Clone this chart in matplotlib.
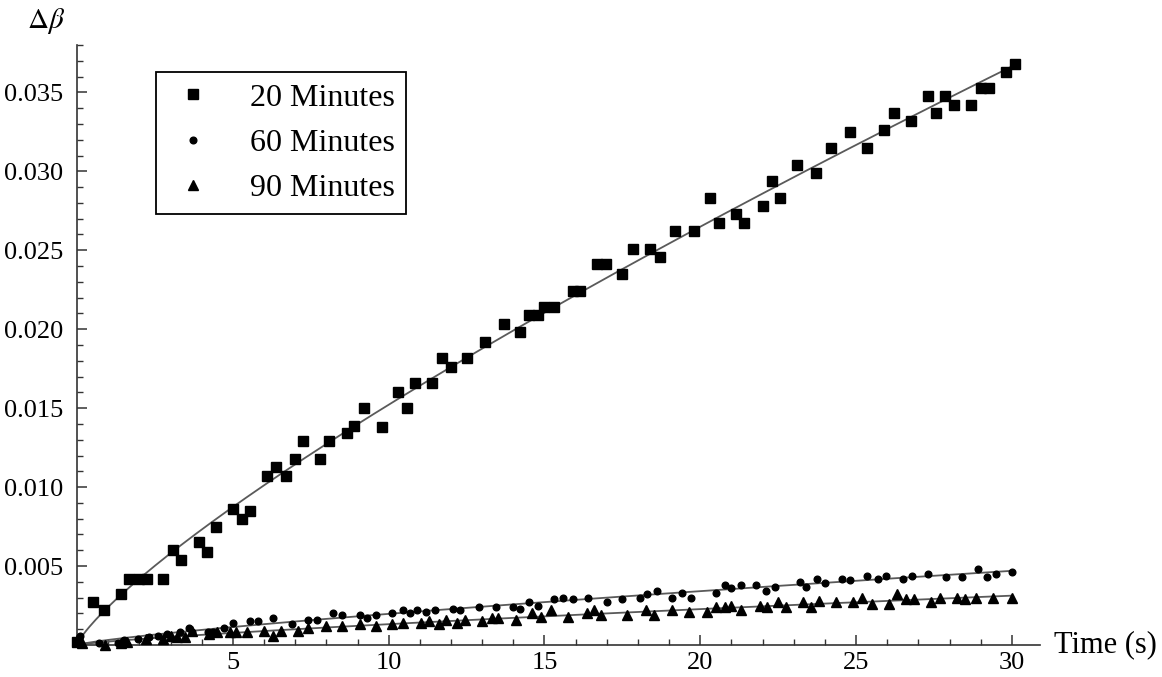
import numpy as np
import matplotlib
matplotlib.use("Agg")
import matplotlib.pyplot as plt
from matplotlib.ticker import MultipleLocator, FormatStrFormatter

plt.rcParams['font.family'] = ['Liberation Serif', 'DejaVu Serif']
plt.rcParams['mathtext.fontset'] = 'stix'

# 20 minutes (squares)
t20 = [0.0, 0.5, 0.87, 1.4, 1.67, 2.0, 2.25, 2.75, 3.08, 3.33, 3.9, 4.17, 4.45, 5.0, 5.3, 5.55,
       6.1, 6.4, 6.7, 7.0, 7.25, 7.8, 8.1, 8.65, 8.9, 9.2, 9.8, 10.3, 10.6, 10.85, 11.4, 11.7,
       12.0, 12.5, 13.1, 13.7, 14.2, 14.5, 14.8, 15.0, 15.3, 15.9, 16.15, 16.7, 16.98, 17.5,
       17.85, 18.4, 18.7, 19.2, 19.8, 20.3, 20.6, 21.15, 21.4, 22.0, 22.3, 22.55, 23.1, 23.7,
       24.2, 24.8, 25.35, 25.9, 26.2, 26.75, 27.3, 27.55, 27.85, 28.15, 28.7, 29.0, 29.25,
       29.8, 30.1]
b20 = [0.0002, 0.0027, 0.0022, 0.0032, 0.0042, 0.0042, 0.0042, 0.0042, 0.0060, 0.0054, 0.0065,
       0.0059, 0.0075, 0.0086, 0.0080, 0.0085, 0.0107, 0.0113, 0.0107, 0.0118, 0.0129, 0.0118,
       0.0129, 0.0134, 0.0139, 0.0150, 0.0138, 0.0160, 0.0150, 0.0166, 0.0166, 0.0182, 0.0176,
       0.0182, 0.0192, 0.0203, 0.0198, 0.0209, 0.0209, 0.0214, 0.0214, 0.0224, 0.0224, 0.0241,
       0.0241, 0.0235, 0.0251, 0.0251, 0.0246, 0.0262, 0.0262, 0.0283, 0.0267, 0.0273, 0.0267,
       0.0278, 0.0294, 0.0283, 0.0304, 0.0299, 0.0315, 0.0325, 0.0315, 0.0326, 0.0337, 0.0332,
       0.0348, 0.0337, 0.0348, 0.0342, 0.0342, 0.0353, 0.0353, 0.0363, 0.0368]

# 60 minutes (dots)
t60 = [0.1, 0.7, 1.3, 1.5, 1.95, 2.3, 2.6, 2.9, 3.3, 3.6, 3.7, 4.2, 4.35, 4.7, 5.0, 5.55, 5.8,
       6.3, 6.9, 7.4, 7.7, 8.2, 8.5, 9.07, 9.3, 9.6, 10.1, 10.45, 10.7, 10.9, 11.2, 11.5, 12.05,
       12.3, 12.9, 13.45, 14.0, 14.2, 14.5, 14.8, 15.3, 15.6, 15.9, 16.4, 17.0, 17.5, 18.05,
       18.3, 18.6, 19.1, 19.4, 19.7, 20.5, 20.8, 21.0, 21.3, 21.8, 22.1, 22.4, 23.2, 23.4,
       23.75, 24.0, 24.55, 24.8, 25.35, 25.7, 25.95, 26.5, 26.8, 27.3, 27.9, 28.4, 28.9, 29.2,
       29.5, 30.0]
b60 = [0.0006, 0.0001, 0.0001, 0.0003, 0.0004, 0.0005, 0.0006, 0.0007, 0.0008, 0.0011, 0.0008,
       0.0008, 0.0008, 0.0011, 0.0014, 0.0015, 0.0015, 0.0017, 0.0013, 0.0016, 0.0016, 0.0020,
       0.0019, 0.0019, 0.0017, 0.0019, 0.0020, 0.0022, 0.0020, 0.0022, 0.0021, 0.0022, 0.0023,
       0.0022, 0.0024, 0.0024, 0.0024, 0.0023, 0.0027, 0.0025, 0.0029, 0.0030, 0.0029, 0.0030,
       0.0027, 0.0029, 0.0030, 0.0032, 0.0034, 0.0030, 0.0033, 0.0030, 0.0033, 0.0038, 0.0036,
       0.0038, 0.0038, 0.0034, 0.0037, 0.0040, 0.0037, 0.0042, 0.0039, 0.0042, 0.0041, 0.0044,
       0.0042, 0.0044, 0.0042, 0.0044, 0.0045, 0.0043, 0.0043, 0.0048, 0.0043, 0.0045, 0.0046]

# 90 minutes (triangles)
t90 = [0.0, 0.15, 0.9, 1.4, 1.6, 2.2, 2.75, 3.0, 3.2, 3.45, 3.7, 4.25, 4.5, 4.9, 5.1, 5.45, 6.0,
       6.3, 6.55, 7.1, 7.4, 8.0, 8.5, 9.07, 9.6, 10.1, 10.45, 11.05, 11.3, 11.6, 11.85, 12.2,
       12.45, 13.0, 13.3, 13.5, 14.1, 14.6, 14.9, 15.2, 15.75, 16.35, 16.6, 16.8, 17.65, 18.25,
       18.5, 19.1, 19.65, 20.2, 20.5, 20.8, 21.0, 21.3, 21.9, 22.15, 22.5, 22.75, 23.3, 23.55,
       23.8, 24.35, 24.9, 25.2, 25.5, 26.05, 26.3, 26.6, 26.85, 27.4, 27.7, 28.25, 28.5, 28.85,
       29.4, 30.0]
b90 = [0.0003, 0.0001, 0.0000, 0.0001, 0.0002, 0.0004, 0.0004, 0.0006, 0.0005, 0.0005, 0.0009,
       0.0007, 0.0008, 0.0008, 0.0008, 0.0008, 0.0009, 0.0006, 0.0009, 0.0009, 0.0011, 0.0012,
       0.0012, 0.0013, 0.0012, 0.0013, 0.0014, 0.0014, 0.0015, 0.0013, 0.0016, 0.0014, 0.0016,
       0.0015, 0.0017, 0.0017, 0.0016, 0.0020, 0.0018, 0.0022, 0.0018, 0.0020, 0.0022, 0.0019,
       0.0019, 0.0022, 0.0019, 0.0022, 0.0021, 0.0021, 0.0024, 0.0024, 0.0025, 0.0022, 0.0025,
       0.0024, 0.0027, 0.0024, 0.0027, 0.0024, 0.0028, 0.0027, 0.0027, 0.0030, 0.0026, 0.0026,
       0.0032, 0.0029, 0.0029, 0.0027, 0.0030, 0.0030, 0.0029, 0.0030, 0.0030, 0.0030]

labels = ['20 Minutes', '60 Minutes', '90 Minutes']


def power_fit(t, b):
    # least squares fit of b = a * t**p, scanning the exponent
    t = np.asarray(t)
    b = np.asarray(b)
    best = None
    for p in np.linspace(0.3, 1.5, 241):
        tp = t ** p
        a = np.sum(b * tp) / np.sum(tp * tp)
        err = np.sum((b - a * tp) ** 2)
        if best is None or err < best[0]:
            best = (err, a, p)
    return best[1], best[2]


fig = plt.figure(figsize=(11.62, 6.77), dpi=100)
ax = fig.add_axes([0.0663, 0.0473, 0.8287, 0.8862])

tt = np.linspace(0, 30, 300)
for t, b in [(t20, b20), (t60, b60), (t90, b90)]:
    a, p = power_fit(t, b)
    ax.plot(tt, a * tt ** p, color='#5a5a5a', lw=1.3, zorder=2)

ax.plot(t20, b20, 's', color='black', ms=7.5, ls='none', label=labels[0], clip_on=False, zorder=3)
ax.plot(t60, b60, 'o', color='black', ms=4.8, ls='none', label=labels[1], clip_on=False, zorder=3)
ax.plot(t90, b90, '^', color='black', ms=7, ls='none', label=labels[2], clip_on=False, zorder=3)

ax.set_xlim(0, 30.9)
ax.set_ylim(0, 0.038)
ax.spines['top'].set_visible(False)
ax.spines['right'].set_visible(False)
for s in ['left', 'bottom']:
    ax.spines[s].set_linewidth(1.2)
    ax.spines[s].set_color('#333333')

ax.xaxis.set_minor_locator(MultipleLocator(1))
ax.yaxis.set_minor_locator(MultipleLocator(0.001))
ax.yaxis.set_major_formatter(FormatStrFormatter('%.3f'))
ax.set_xticks([5, 10, 15, 20, 25, 30])
ax.set_yticks([0.005, 0.010, 0.015, 0.020, 0.025, 0.030, 0.035])
ax.tick_params(which='major', direction='in', length=7, width=1.1, labelsize=19, color='#333333')
ax.tick_params(which='minor', direction='in', length=4, width=1.0, color='#333333')
ax.tick_params(axis='x', pad=5)
ax.tick_params(axis='y', pad=10)

ax.annotate('Time (s)', xy=(1.0, 0.0), xycoords='axes fraction', xytext=(10, 0),
            textcoords='offset points', fontsize=22, ha='left', va='center')
ax.text(-0.012, 1.015, r'$\Delta\beta$', transform=ax.transAxes, fontsize=21, ha='right', va='bottom')

leg = ax.legend(loc='upper left', bbox_to_anchor=(0.082, 0.955), borderaxespad=0,
                fancybox=False, edgecolor='black', fontsize=23, handletextpad=0.99,
                borderpad=0.35, labelspacing=0.5, handlelength=1.6, framealpha=1)
leg.get_frame().set_linewidth(1.3)

fig.savefig('out.png', dpi=100)
